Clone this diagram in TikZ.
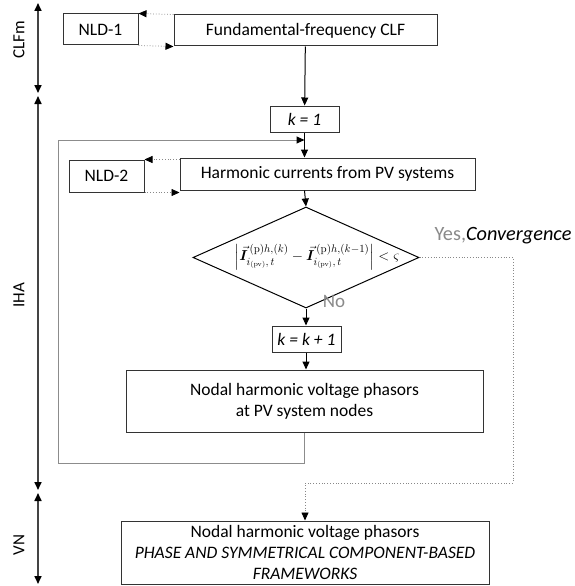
\documentclass[tikz,border=0pt]{standalone}
\usepackage{amsmath,bm}
\usepackage[no-math]{fontspec}
\setmainfont{Carlito}
\usetikzlibrary{arrows.meta,shapes.geometric}
\definecolor{boxline}{HTML}{333333}
\definecolor{axisline}{HTML}{444444}
\definecolor{loopline}{HTML}{8C8C8C}
\definecolor{dotline}{HTML}{888888}
\definecolor{labgray}{HTML}{8A8A8A}
\tikzset{
  tip/.tip={Triangle[length=8pt,width=7pt,color=black]},
  boxn/.style={draw=boxline,line width=1pt,fill=white,inner sep=0pt,align=center,
    font=\fontsize{17.5}{21}\selectfont},
  flow/.style={draw=black,line width=1pt,-tip},
  dotarrow/.style={draw=dotline,line width=0.8pt,dotted,-tip},
  looparrow/.style={draw=loopline,line width=1pt,-tip},
  axis/.style={draw=axisline,line width=1.6pt,{tip}-{tip}},
  axislab/.style={rotate=90,font=\fontsize{17}{20}\selectfont},
}
\begin{document}
\begin{tikzpicture}[x=1pt,y=-1pt]
\useasboundingbox (0,0) rectangle (575,586);
% stage axes
\coordinate (a0) at (38,3);
\coordinate (a1) at (38,93);
\coordinate (a2) at (38,96);
\coordinate (a3) at (38,490);
\coordinate (a4) at (38,493);
\coordinate (a5) at (38,584);
\draw[axis] (a0) -- (a1);
\draw[axis] (a2) -- (a3);
\draw[axis] (a4) -- (a5);
\node[axislab] (lclf) at (19,40) {CLFm};
\node[axislab] (liha) at (19,295) {IHA};
\node[axislab] (lvn) at (19,545) {VN};
% boxes
\node[boxn,minimum width=75pt,minimum height=31pt] (nld1) at (100.5,29.5) {NLD-1};
\node[boxn,minimum width=263pt,minimum height=31pt] (fund) at (305.5,30.5) {Fundamental-frequency CLF};
\node[boxn,minimum width=69pt,minimum height=26pt] (k1) at (304.5,119) {\textit{k = 1}};
\node[boxn,minimum width=75pt,minimum height=32pt] (nld2) at (106.5,176) {NLD-2};
\node[boxn,minimum width=295pt,minimum height=32pt] (harm) at (327.5,174) {Harmonic currents from PV systems};
\node[diamond,draw=black,line width=1pt,minimum width=226pt,minimum height=101pt,inner sep=0pt] (dec) at (306,257.5) {};
\node[inner sep=0pt,font=\fontsize{15}{18}\selectfont] (form) at (317,257) {$\left|\vec{\bm I}^{\,(\mathrm{p})h,(k)}_{i_{(\mathrm{pv})},\,t}-\vec{\bm I}^{\,(\mathrm{p})h,(k-1)}_{i_{(\mathrm{pv})},\,t}\right|<\varsigma$};
\node[boxn,minimum width=69pt,minimum height=26pt] (kk) at (306.5,339) {\textit{k = k + 1}};
\node[boxn,minimum width=357pt,minimum height=62pt] (nodal) at (304.5,401) {Nodal harmonic voltage phasors\\at PV system nodes};
\node[boxn,minimum width=368pt,minimum height=63pt] (bot) at (305,552.5) {Nodal harmonic voltage phasors\\\textit{PHASE AND SYMMETRICAL COMPONENT-BASED}\\\textit{FRAMEWORKS}};
% labels
\node[inner sep=0pt,font=\fontsize{20.3}{24}\selectfont] (yes) at (503,236) {\textcolor{labgray}{Yes,}\textit{Convergence}};
\node[inner sep=0pt,font=\fontsize{19}{23}\selectfont,text=labgray] (no) at (334,301) {No};
% main flow
\draw[flow] (fund) -- (k1);
\draw[flow] (k1.south) -- (k1.south |- harm.north);
\draw[flow] (k1.south |- harm.south) -- (dec.north);
\draw[flow] (dec.south) -- (dec.south |- kk.north);
\draw[flow] (dec.south |- kk.south) -- (dec.south |- nodal.north);
% NLD exchanges
\draw[dotarrow] (fund.north west) -- (nld1.north east);
\draw[dotarrow] (nld1.south east) -- (fund.south west);
\draw[dotarrow] (nld2.north east -| harm.west) -- (nld2.north east);
\draw[dotarrow] (nld2.south east) -- (nld2.south east -| harm.west);
% iteration loop
\coordinate (lb) at (58,463);
\coordinate (lt) at (58,140);
\draw[looparrow] (nodal.south) |- (lb) -- (lt) -- (k1.south |- lt);
% convergence exit
\coordinate (dr) at (513,483);
\draw[dotarrow] (dec.east) -| (dr) -| (bot.north);
\end{tikzpicture}
\end{document}
